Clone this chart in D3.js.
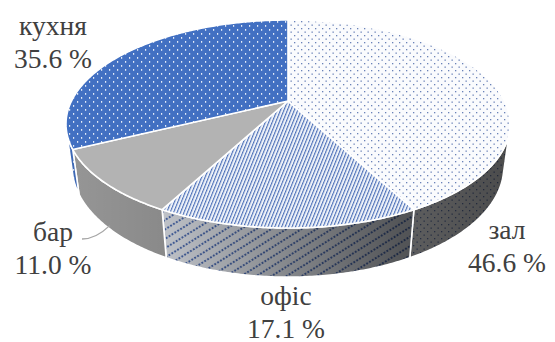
<!DOCTYPE html>
<html>
<head>
<meta charset="utf-8">
<script src="https://cdn.jsdelivr.net/npm/d3@7"></script>
<style>
  body { margin: 0; background: #fff; }
  svg { display: block; }
  .face { stroke: #fff; stroke-width: 1.6; stroke-linejoin: round; }
</style>
</head>
<body>
<svg id="chart" width="555" height="342"></svg>
<script>
const categories = ["зал", "офіс", "бар", "кухня"];
const values = [46.6, 17.1, 11.0, 35.6];

// layout (label anchors, not data)
const LABEL_POS = [
  { x: 507, y: 239 },
  { x: 286, y: 305 },
  { x: 53, y: 241 },
  { x: 53, y: 35 },
];
const LINE_GAP = 32.5;
const FONT = "Liberation Serif, Tinos, Noto Serif, DejaVu Serif, FreeSerif, Times New Roman, Times, serif";

const width = 555, height = 342;
const svg = d3.select("#chart");

// 3D perspective setup (unit radius pie)
const ALPHA = 28 * Math.PI / 180;
const DIST = 4;
const THICK = 0.2315;
const CX = 288, TOP_Y = 20, FRONT_Y = 228, HALF_W = 222;

function rawProject(x, y, z) {
  const qx = x, qy = y - DIST * Math.sin(ALPHA), qz = z - DIST * Math.cos(ALPHA);
  const depth = -qy * Math.sin(ALPHA) - qz * Math.cos(ALPHA);
  const up = qy * Math.cos(ALPHA) - qz * Math.sin(ALPHA);
  return [DIST * qx / depth, DIST * up / depth];
}
const rim = (theta, level) => rawProject(Math.sin(theta), -level * THICK, -Math.cos(theta));

const backY = rim(0, 0)[1], frontY = rim(Math.PI, 0)[1];
const KY = (FRONT_Y - TOP_Y) / (backY - frontY);
const OY = TOP_Y + KY * backY;
const maxX = d3.max(d3.range(0, Math.PI, 0.002), t => rim(t, 0)[0]);
const KX = HALF_W / maxX;

function project(theta, level) {
  const [sx, sy] = rim(theta, level);
  return [CX + KX * sx, OY - KY * sy];
}
const apex = (() => { const [sx, sy] = rawProject(0, 0, 0); return [CX + KX * sx, OY - KY * sy]; })();

// visible part of outer wall
const visA = Math.acos(-1 / (DIST * Math.cos(ALPHA)));
const visB = 2 * Math.PI - visA;

function arcPoints(a0, a1, level) {
  const n = Math.max(2, Math.ceil(Math.abs(a1 - a0) / 0.01));
  return d3.range(n + 1).map(i => project(a0 + (a1 - a0) * i / n, level));
}
const line = d3.line();

// patterns
const defs = svg.append("defs");

const pZal = defs.append("pattern").attr("id", "p-zal").attr("patternUnits", "userSpaceOnUse")
  .attr("width", 7).attr("height", 7);
pZal.append("rect").attr("width", 7).attr("height", 7).attr("fill", "#fafbfd");
pZal.append("rect").attr("x", 0).attr("y", 0).attr("width", 1.3).attr("height", 1.3).attr("fill", "#6a82b8");
pZal.append("rect").attr("x", 3.5).attr("y", 3.5).attr("width", 1.3).attr("height", 1.3).attr("fill", "#6a82b8");

const pKuh = defs.append("pattern").attr("id", "p-kuh").attr("patternUnits", "userSpaceOnUse")
  .attr("width", 8).attr("height", 8);
pKuh.append("rect").attr("width", 8).attr("height", 8).attr("fill", "#4270c2");
pKuh.append("rect").attr("x", 1).attr("y", 1).attr("width", 1.2).attr("height", 1.8).attr("fill", "#e4ecf8");
pKuh.append("rect").attr("x", 5).attr("y", 5).attr("width", 1.2).attr("height", 1.8).attr("fill", "#e4ecf8");

const pOfTop = defs.append("pattern").attr("id", "p-of-top").attr("patternUnits", "userSpaceOnUse")
  .attr("width", 3.2).attr("height", 10).attr("patternTransform", "rotate(22)");
pOfTop.append("rect").attr("width", 3.2).attr("height", 10).attr("fill", "#eef2f9");
pOfTop.append("rect").attr("width", 1.1).attr("height", 10).attr("fill", "#4d70b8");

const pOfSide = defs.append("pattern").attr("id", "p-of-side").attr("patternUnits", "userSpaceOnUse")
  .attr("width", 3.4).attr("height", 8).attr("patternTransform", "rotate(-32)");
pOfSide.append("rect").attr("width", 3.4).attr("height", 8).attr("fill", "#dde1e8");
pOfSide.append("circle").attr("cx", 1.7).attr("cy", 2).attr("r", 1.1).attr("fill", "#3659a6");

const shade = defs.append("linearGradient").attr("id", "shade").attr("gradientUnits", "userSpaceOnUse")
  .attr("x1", 66).attr("x2", 510).attr("y1", 0).attr("y2", 0);
[[0, 0.06], [0.22, 0.14], [0.5, 0.4], [0.75, 0.62], [1, 0.7]].forEach(([o, a]) =>
  shade.append("stop").attr("offset", o).attr("stop-color", "#000").attr("stop-opacity", a));

const topFill = ["url(#p-zal)", "url(#p-of-top)", "#b3b3b3", "url(#p-kuh)"];
const sideFill = ["url(#p-zal)", "url(#p-of-side)", "#a0a0a0", "url(#p-kuh)"];

const arcs = d3.pie().sort(null).startAngle(0).endAngle(2 * Math.PI)(values);

// outer walls
const sides = svg.append("g");
arcs.forEach((a, i) => {
  const lo = Math.max(a.startAngle, visA), hi = Math.min(a.endAngle, visB);
  if (lo >= hi) return;
  const pts = arcPoints(lo, hi, 0).concat(arcPoints(hi, lo, 1));
  const d = line(pts) + "Z";
  sides.append("path").attr("d", d).attr("fill", sideFill[i]);
  sides.append("path").attr("d", d).attr("fill", "url(#shade)");
  sides.append("path").attr("d", d).attr("class", "face").attr("fill", "none");
});

// top faces
const tops = svg.append("g");
arcs.forEach((a, i) => {
  const pts = [apex].concat(arcPoints(a.startAngle, a.endAngle, 0));
  tops.append("path").attr("d", line(pts) + "Z").attr("class", "face").attr("fill", topFill[i]);
});

// leader line for бар
const barArc = arcs[2];
const anchor = project((barArc.startAngle + barArc.endAngle) / 2, 0.92);
svg.append("path")
  .attr("d", `M82,${LABEL_POS[2].y - 2} Q${(82 + anchor[0]) / 2},${LABEL_POS[2].y - 2} ${anchor[0]},${anchor[1]}`)
  .attr("fill", "none").attr("stroke", "#a6a6a6").attr("stroke-width", 1.3);

// labels
categories.forEach((c, i) => {
  const p = LABEL_POS[i];
  const t = svg.append("text")
    .style("font-family", FONT).style("font-size", "27.5px").attr("fill", "#404040")
    .attr("text-anchor", "middle");
  t.append("tspan").attr("x", p.x).attr("y", p.y).text(c);
  t.append("tspan").attr("x", p.x).attr("y", p.y + LINE_GAP).text(`${values[i].toFixed(1)} %`);
});
</script>
</body>
</html>
